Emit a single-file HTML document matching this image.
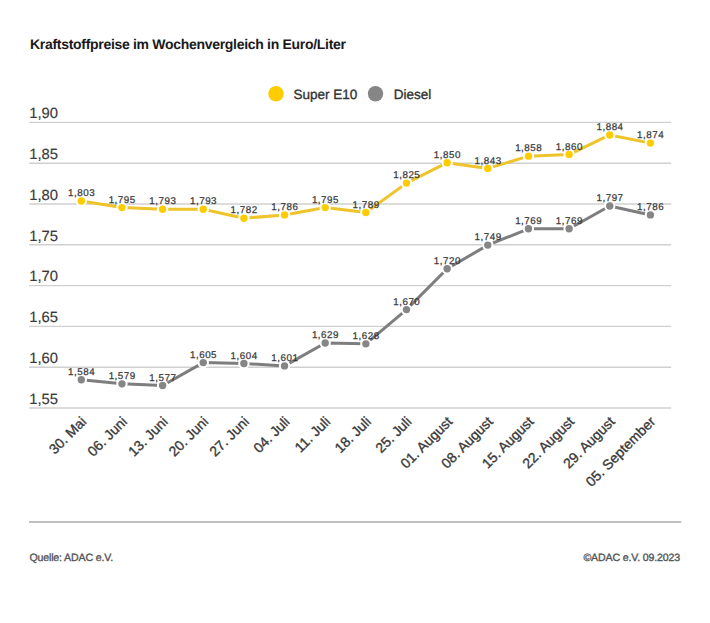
<!DOCTYPE html>
<html><head><meta charset="utf-8"><style>
html,body{margin:0;padding:0;background:#fff;width:710px;height:623px;overflow:hidden}
body{font-family:"Liberation Sans",sans-serif;position:relative}
svg{position:absolute;left:0;top:0}
svg text{font-family:"Liberation Sans",sans-serif;text-rendering:geometricPrecision}
</style></head><body>
<svg width="710" height="623" viewBox="0 0 710 623">
<text x="30.0" y="48.6" font-size="14" font-weight="bold" fill="#1a1a1a" letter-spacing="-0.3">Kraftstoffpreise im Wochenvergleich in Euro/Liter</text>
<circle cx="276" cy="93.7" r="7.7" fill="#FFCC00"/>
<text x="293.50" y="98.80" font-size="13.5" fill="#333" stroke="#333" stroke-width="0.35">Super E10</text>
<circle cx="375.5" cy="93.7" r="7.7" fill="#868686"/>
<text x="393.80" y="98.80" font-size="13.5" fill="#333" stroke="#333" stroke-width="0.35">Diesel</text>
<line x1="29.2" x2="671.2" y1="408.00" y2="408.00" stroke="#d0d0d0" stroke-width="1.4"/>
<text x="29.20" y="403.70" font-size="14.8" fill="#3a3a3a" stroke="#3a3a3a" stroke-width="0.15">1,55</text>
<line x1="29.2" x2="671.2" y1="367.20" y2="367.20" stroke="#d0d0d0" stroke-width="1.4"/>
<text x="29.20" y="362.90" font-size="14.8" fill="#3a3a3a" stroke="#3a3a3a" stroke-width="0.15">1,60</text>
<line x1="29.2" x2="671.2" y1="326.40" y2="326.40" stroke="#d0d0d0" stroke-width="1.4"/>
<text x="29.20" y="322.10" font-size="14.8" fill="#3a3a3a" stroke="#3a3a3a" stroke-width="0.15">1,65</text>
<line x1="29.2" x2="671.2" y1="285.60" y2="285.60" stroke="#d0d0d0" stroke-width="1.4"/>
<text x="29.20" y="281.30" font-size="14.8" fill="#3a3a3a" stroke="#3a3a3a" stroke-width="0.15">1,70</text>
<line x1="29.2" x2="671.2" y1="244.80" y2="244.80" stroke="#d0d0d0" stroke-width="1.4"/>
<text x="29.20" y="240.50" font-size="14.8" fill="#3a3a3a" stroke="#3a3a3a" stroke-width="0.15">1,75</text>
<line x1="29.2" x2="671.2" y1="204.00" y2="204.00" stroke="#d0d0d0" stroke-width="1.4"/>
<text x="29.20" y="199.70" font-size="14.8" fill="#3a3a3a" stroke="#3a3a3a" stroke-width="0.15">1,80</text>
<line x1="29.2" x2="671.2" y1="163.20" y2="163.20" stroke="#d0d0d0" stroke-width="1.4"/>
<text x="29.20" y="158.90" font-size="14.8" fill="#3a3a3a" stroke="#3a3a3a" stroke-width="0.15">1,85</text>
<line x1="29.2" x2="671.2" y1="122.40" y2="122.40" stroke="#d0d0d0" stroke-width="1.4"/>
<text x="29.20" y="118.10" font-size="14.8" fill="#3a3a3a" stroke="#3a3a3a" stroke-width="0.15">1,90</text>
<polyline points="81.30,201.05 121.95,207.58 162.60,209.21 203.25,209.21 243.90,218.19 284.55,214.92 325.20,207.58 365.85,212.48 406.50,183.10 447.15,162.70 487.80,168.41 528.45,156.17 569.10,154.54 609.75,134.96 650.40,143.12" fill="none" stroke="#EEC42A" stroke-width="3" stroke-linejoin="round" stroke-linecap="round"/>
<polyline points="81.30,379.76 121.95,383.84 162.60,385.47 203.25,362.62 243.90,363.44 284.55,365.88 325.20,343.04 365.85,343.85 406.50,309.58 447.15,268.78 487.80,245.12 528.45,228.80 569.10,228.80 609.75,205.95 650.40,214.92" fill="none" stroke="#7e7e7e" stroke-width="3" stroke-linejoin="round" stroke-linecap="round"/>
<circle cx="81.30" cy="201.05" r="5.7" fill="#fff"/>
<circle cx="81.30" cy="201.05" r="3.7" fill="#FFCC00"/>
<circle cx="121.95" cy="207.58" r="5.7" fill="#fff"/>
<circle cx="121.95" cy="207.58" r="3.7" fill="#FFCC00"/>
<circle cx="162.60" cy="209.21" r="5.7" fill="#fff"/>
<circle cx="162.60" cy="209.21" r="3.7" fill="#FFCC00"/>
<circle cx="203.25" cy="209.21" r="5.7" fill="#fff"/>
<circle cx="203.25" cy="209.21" r="3.7" fill="#FFCC00"/>
<circle cx="243.90" cy="218.19" r="5.7" fill="#fff"/>
<circle cx="243.90" cy="218.19" r="3.7" fill="#FFCC00"/>
<circle cx="284.55" cy="214.92" r="5.7" fill="#fff"/>
<circle cx="284.55" cy="214.92" r="3.7" fill="#FFCC00"/>
<circle cx="325.20" cy="207.58" r="5.7" fill="#fff"/>
<circle cx="325.20" cy="207.58" r="3.7" fill="#FFCC00"/>
<circle cx="365.85" cy="212.48" r="5.7" fill="#fff"/>
<circle cx="365.85" cy="212.48" r="3.7" fill="#FFCC00"/>
<circle cx="406.50" cy="183.10" r="5.7" fill="#fff"/>
<circle cx="406.50" cy="183.10" r="3.7" fill="#FFCC00"/>
<circle cx="447.15" cy="162.70" r="5.7" fill="#fff"/>
<circle cx="447.15" cy="162.70" r="3.7" fill="#FFCC00"/>
<circle cx="487.80" cy="168.41" r="5.7" fill="#fff"/>
<circle cx="487.80" cy="168.41" r="3.7" fill="#FFCC00"/>
<circle cx="528.45" cy="156.17" r="5.7" fill="#fff"/>
<circle cx="528.45" cy="156.17" r="3.7" fill="#FFCC00"/>
<circle cx="569.10" cy="154.54" r="5.7" fill="#fff"/>
<circle cx="569.10" cy="154.54" r="3.7" fill="#FFCC00"/>
<circle cx="609.75" cy="134.96" r="5.7" fill="#fff"/>
<circle cx="609.75" cy="134.96" r="3.7" fill="#FFCC00"/>
<circle cx="650.40" cy="143.12" r="5.7" fill="#fff"/>
<circle cx="650.40" cy="143.12" r="3.7" fill="#FFCC00"/>
<circle cx="81.30" cy="379.76" r="5.7" fill="#fff"/>
<circle cx="81.30" cy="379.76" r="3.7" fill="#868686"/>
<circle cx="121.95" cy="383.84" r="5.7" fill="#fff"/>
<circle cx="121.95" cy="383.84" r="3.7" fill="#868686"/>
<circle cx="162.60" cy="385.47" r="5.7" fill="#fff"/>
<circle cx="162.60" cy="385.47" r="3.7" fill="#868686"/>
<circle cx="203.25" cy="362.62" r="5.7" fill="#fff"/>
<circle cx="203.25" cy="362.62" r="3.7" fill="#868686"/>
<circle cx="243.90" cy="363.44" r="5.7" fill="#fff"/>
<circle cx="243.90" cy="363.44" r="3.7" fill="#868686"/>
<circle cx="284.55" cy="365.88" r="5.7" fill="#fff"/>
<circle cx="284.55" cy="365.88" r="3.7" fill="#868686"/>
<circle cx="325.20" cy="343.04" r="5.7" fill="#fff"/>
<circle cx="325.20" cy="343.04" r="3.7" fill="#868686"/>
<circle cx="365.85" cy="343.85" r="5.7" fill="#fff"/>
<circle cx="365.85" cy="343.85" r="3.7" fill="#868686"/>
<circle cx="406.50" cy="309.58" r="5.7" fill="#fff"/>
<circle cx="406.50" cy="309.58" r="3.7" fill="#868686"/>
<circle cx="447.15" cy="268.78" r="5.7" fill="#fff"/>
<circle cx="447.15" cy="268.78" r="3.7" fill="#868686"/>
<circle cx="487.80" cy="245.12" r="5.7" fill="#fff"/>
<circle cx="487.80" cy="245.12" r="3.7" fill="#868686"/>
<circle cx="528.45" cy="228.80" r="5.7" fill="#fff"/>
<circle cx="528.45" cy="228.80" r="3.7" fill="#868686"/>
<circle cx="569.10" cy="228.80" r="5.7" fill="#fff"/>
<circle cx="569.10" cy="228.80" r="3.7" fill="#868686"/>
<circle cx="609.75" cy="205.95" r="5.7" fill="#fff"/>
<circle cx="609.75" cy="205.95" r="3.7" fill="#868686"/>
<circle cx="650.40" cy="214.92" r="5.7" fill="#fff"/>
<circle cx="650.40" cy="214.92" r="3.7" fill="#868686"/>
<text x="81.30" y="196.15" font-size="9.8" fill="#3a3a3a" stroke="#3a3a3a" stroke-width="0.25" text-anchor="middle" textLength="26.6" lengthAdjust="spacing">1,803</text>
<text x="121.95" y="202.68" font-size="9.8" fill="#3a3a3a" stroke="#3a3a3a" stroke-width="0.25" text-anchor="middle" textLength="26.6" lengthAdjust="spacing">1,795</text>
<text x="162.60" y="204.31" font-size="9.8" fill="#3a3a3a" stroke="#3a3a3a" stroke-width="0.25" text-anchor="middle" textLength="26.6" lengthAdjust="spacing">1,793</text>
<text x="203.25" y="204.31" font-size="9.8" fill="#3a3a3a" stroke="#3a3a3a" stroke-width="0.25" text-anchor="middle" textLength="26.6" lengthAdjust="spacing">1,793</text>
<text x="243.90" y="213.29" font-size="9.8" fill="#3a3a3a" stroke="#3a3a3a" stroke-width="0.25" text-anchor="middle" textLength="26.6" lengthAdjust="spacing">1,782</text>
<text x="284.55" y="210.02" font-size="9.8" fill="#3a3a3a" stroke="#3a3a3a" stroke-width="0.25" text-anchor="middle" textLength="26.6" lengthAdjust="spacing">1,786</text>
<text x="325.20" y="202.68" font-size="9.8" fill="#3a3a3a" stroke="#3a3a3a" stroke-width="0.25" text-anchor="middle" textLength="26.6" lengthAdjust="spacing">1,795</text>
<text x="365.85" y="207.58" font-size="9.8" fill="#3a3a3a" stroke="#3a3a3a" stroke-width="0.25" text-anchor="middle" textLength="26.6" lengthAdjust="spacing">1,789</text>
<text x="406.50" y="178.20" font-size="9.8" fill="#3a3a3a" stroke="#3a3a3a" stroke-width="0.25" text-anchor="middle" textLength="26.6" lengthAdjust="spacing">1,825</text>
<text x="447.15" y="157.80" font-size="9.8" fill="#3a3a3a" stroke="#3a3a3a" stroke-width="0.25" text-anchor="middle" textLength="26.6" lengthAdjust="spacing">1,850</text>
<text x="487.80" y="163.51" font-size="9.8" fill="#3a3a3a" stroke="#3a3a3a" stroke-width="0.25" text-anchor="middle" textLength="26.6" lengthAdjust="spacing">1,843</text>
<text x="528.45" y="151.27" font-size="9.8" fill="#3a3a3a" stroke="#3a3a3a" stroke-width="0.25" text-anchor="middle" textLength="26.6" lengthAdjust="spacing">1,858</text>
<text x="569.10" y="149.64" font-size="9.8" fill="#3a3a3a" stroke="#3a3a3a" stroke-width="0.25" text-anchor="middle" textLength="26.6" lengthAdjust="spacing">1,860</text>
<text x="609.75" y="130.06" font-size="9.8" fill="#3a3a3a" stroke="#3a3a3a" stroke-width="0.25" text-anchor="middle" textLength="26.6" lengthAdjust="spacing">1,884</text>
<text x="650.40" y="138.22" font-size="9.8" fill="#3a3a3a" stroke="#3a3a3a" stroke-width="0.25" text-anchor="middle" textLength="26.6" lengthAdjust="spacing">1,874</text>
<text x="81.30" y="374.86" font-size="9.8" fill="#3a3a3a" stroke="#3a3a3a" stroke-width="0.25" text-anchor="middle" textLength="26.6" lengthAdjust="spacing">1,584</text>
<text x="121.95" y="378.94" font-size="9.8" fill="#3a3a3a" stroke="#3a3a3a" stroke-width="0.25" text-anchor="middle" textLength="26.6" lengthAdjust="spacing">1,579</text>
<text x="162.60" y="380.57" font-size="9.8" fill="#3a3a3a" stroke="#3a3a3a" stroke-width="0.25" text-anchor="middle" textLength="26.6" lengthAdjust="spacing">1,577</text>
<text x="203.25" y="357.72" font-size="9.8" fill="#3a3a3a" stroke="#3a3a3a" stroke-width="0.25" text-anchor="middle" textLength="26.6" lengthAdjust="spacing">1,605</text>
<text x="243.90" y="358.54" font-size="9.8" fill="#3a3a3a" stroke="#3a3a3a" stroke-width="0.25" text-anchor="middle" textLength="26.6" lengthAdjust="spacing">1,604</text>
<text x="284.55" y="360.98" font-size="9.8" fill="#3a3a3a" stroke="#3a3a3a" stroke-width="0.25" text-anchor="middle" textLength="26.6" lengthAdjust="spacing">1,601</text>
<text x="325.20" y="338.14" font-size="9.8" fill="#3a3a3a" stroke="#3a3a3a" stroke-width="0.25" text-anchor="middle" textLength="26.6" lengthAdjust="spacing">1,629</text>
<text x="365.85" y="338.95" font-size="9.8" fill="#3a3a3a" stroke="#3a3a3a" stroke-width="0.25" text-anchor="middle" textLength="26.6" lengthAdjust="spacing">1,628</text>
<text x="406.50" y="304.68" font-size="9.8" fill="#3a3a3a" stroke="#3a3a3a" stroke-width="0.25" text-anchor="middle" textLength="26.6" lengthAdjust="spacing">1,670</text>
<text x="447.15" y="263.88" font-size="9.8" fill="#3a3a3a" stroke="#3a3a3a" stroke-width="0.25" text-anchor="middle" textLength="26.6" lengthAdjust="spacing">1,720</text>
<text x="487.80" y="240.22" font-size="9.8" fill="#3a3a3a" stroke="#3a3a3a" stroke-width="0.25" text-anchor="middle" textLength="26.6" lengthAdjust="spacing">1,749</text>
<text x="528.45" y="223.90" font-size="9.8" fill="#3a3a3a" stroke="#3a3a3a" stroke-width="0.25" text-anchor="middle" textLength="26.6" lengthAdjust="spacing">1,769</text>
<text x="569.10" y="223.90" font-size="9.8" fill="#3a3a3a" stroke="#3a3a3a" stroke-width="0.25" text-anchor="middle" textLength="26.6" lengthAdjust="spacing">1,769</text>
<text x="609.75" y="201.05" font-size="9.8" fill="#3a3a3a" stroke="#3a3a3a" stroke-width="0.25" text-anchor="middle" textLength="26.6" lengthAdjust="spacing">1,797</text>
<text x="650.40" y="210.02" font-size="9.8" fill="#3a3a3a" stroke="#3a3a3a" stroke-width="0.25" text-anchor="middle" textLength="26.6" lengthAdjust="spacing">1,786</text>
<text x="87.30" y="422.50" font-size="14" fill="#3a3a3a" stroke="#3a3a3a" stroke-width="0.35" text-anchor="end" transform="rotate(-45 87.30 422.50)">30. Mai</text>
<text x="127.95" y="422.50" font-size="14" fill="#3a3a3a" stroke="#3a3a3a" stroke-width="0.35" text-anchor="end" transform="rotate(-45 127.95 422.50)">06. Juni</text>
<text x="168.60" y="422.50" font-size="14" fill="#3a3a3a" stroke="#3a3a3a" stroke-width="0.35" text-anchor="end" transform="rotate(-45 168.60 422.50)">13. Juni</text>
<text x="209.25" y="422.50" font-size="14" fill="#3a3a3a" stroke="#3a3a3a" stroke-width="0.35" text-anchor="end" transform="rotate(-45 209.25 422.50)">20. Juni</text>
<text x="249.90" y="422.50" font-size="14" fill="#3a3a3a" stroke="#3a3a3a" stroke-width="0.35" text-anchor="end" transform="rotate(-45 249.90 422.50)">27. Juni</text>
<text x="290.55" y="422.50" font-size="14" fill="#3a3a3a" stroke="#3a3a3a" stroke-width="0.35" text-anchor="end" transform="rotate(-45 290.55 422.50)">04. Juli</text>
<text x="331.20" y="422.50" font-size="14" fill="#3a3a3a" stroke="#3a3a3a" stroke-width="0.35" text-anchor="end" transform="rotate(-45 331.20 422.50)">11. Juli</text>
<text x="371.85" y="422.50" font-size="14" fill="#3a3a3a" stroke="#3a3a3a" stroke-width="0.35" text-anchor="end" transform="rotate(-45 371.85 422.50)">18. Juli</text>
<text x="412.50" y="422.50" font-size="14" fill="#3a3a3a" stroke="#3a3a3a" stroke-width="0.35" text-anchor="end" transform="rotate(-45 412.50 422.50)">25. Juli</text>
<text x="453.15" y="422.50" font-size="14" fill="#3a3a3a" stroke="#3a3a3a" stroke-width="0.35" text-anchor="end" transform="rotate(-45 453.15 422.50)">01. August</text>
<text x="493.80" y="422.50" font-size="14" fill="#3a3a3a" stroke="#3a3a3a" stroke-width="0.35" text-anchor="end" transform="rotate(-45 493.80 422.50)">08. August</text>
<text x="534.45" y="422.50" font-size="14" fill="#3a3a3a" stroke="#3a3a3a" stroke-width="0.35" text-anchor="end" transform="rotate(-45 534.45 422.50)">15. August</text>
<text x="575.10" y="422.50" font-size="14" fill="#3a3a3a" stroke="#3a3a3a" stroke-width="0.35" text-anchor="end" transform="rotate(-45 575.10 422.50)">22. August</text>
<text x="615.75" y="422.50" font-size="14" fill="#3a3a3a" stroke="#3a3a3a" stroke-width="0.35" text-anchor="end" transform="rotate(-45 615.75 422.50)">29. August</text>
<text x="656.40" y="422.50" font-size="14" fill="#3a3a3a" stroke="#3a3a3a" stroke-width="0.35" text-anchor="end" transform="rotate(-45 656.40 422.50)">05. September</text>
<line x1="29" x2="681.3" y1="522" y2="522" stroke="#c0c0c0" stroke-width="2"/>
<text x="29.40" y="561.10" font-size="10.6" fill="#555" stroke="#555" stroke-width="0.35" letter-spacing="-0.15">Quelle: ADAC e.V.</text>
<text x="680.00" y="561.10" font-size="10.6" fill="#555" stroke="#555" stroke-width="0.35" text-anchor="end" letter-spacing="-0.15">©ADAC e.V. 09.2023</text>
</svg>
</body></html>
